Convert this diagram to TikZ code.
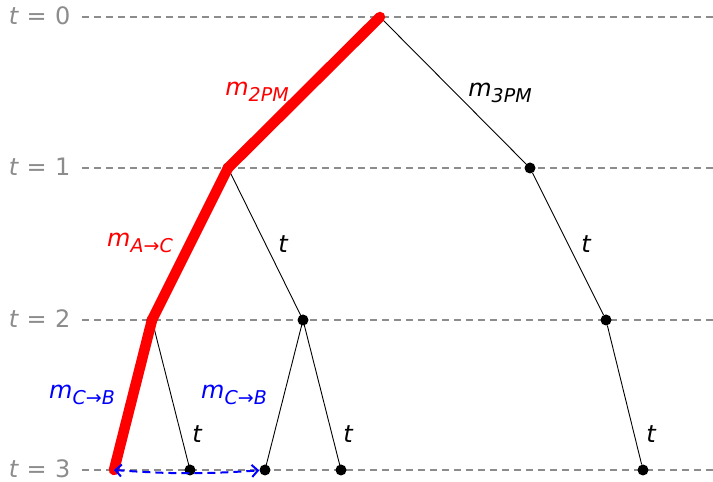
\documentclass[tikz,border=0pt]{standalone}
\usepackage{fontspec}
\setmainfont{DejaVu Sans}
\usetikzlibrary{arrows.meta}
\definecolor{lvlgray}{gray}{0.55}
\newcommand{\lbl}[2]{{\itshape #1}\raisebox{-0.25em}{\fontsize{19}{19}\selectfont\itshape #2}}
\tikzset{
  dot/.style={circle, fill=black, inner sep=0pt, minimum size=11pt},
  level/.style={lvlgray, line width=1.1pt, dash pattern=on 7pt off 5pt},
  edge/.style={black, line width=0.9pt},
  path/.style={red, line width=10.5pt, line cap=round},
  txt/.style={font=\fontsize{24}{28}\selectfont},
}
\begin{document}
\begin{tikzpicture}[x=1pt, y=1pt]
    \useasboundingbox (0,0) rectangle (713,482);

    % Zeitebenen
    \foreach \i/\y in {0/465, 1/314, 2/162, 3/12} {
        \draw[level] (82,\y) -- (713,\y);
        \node[txt, lvlgray, anchor=east] (lev\i) at (74,\y+1) {{\itshape t}\hspace{0.35em}=\hspace{0.35em}\i};
    }

    % Knoten
    \coordinate (r) at (380,465);
    \node[dot] (a) at (228,314) {};
    \node[dot] (b) at (530,314) {};
    \node[dot] (aa) at (152,162) {};
    \node[dot] (ab) at (303,162) {};
    \node[dot] (ba) at (606,162) {};
    \coordinate (aaa) at (114,12);
    \node[dot] (aab) at (190,12) {};
    \node[dot] (aba) at (265,12) {};
    \node[dot] (abb) at (341,12) {};
    \node[dot] (baa) at (643,12) {};

    % Kanten
    \draw[edge] (r) -- (b) -- (ba) -- (baa);
    \draw[edge] (a.center) -- (ab.center) -- (aba.center);
    \draw[edge] (ab.center) -- (abb.center);
    \draw[edge] (aa.center) -- (aab.center);

    % roter Pfad
    \draw[path] (r) -- (a.center) -- (aa.center) -- (aaa);

    % Beschriftungen
    \node[txt, red] (l2pm) at (257,390) {\lbl{m}{2PM}};
    \node[txt] (l3pm) at (500,389) {\lbl{m}{3PM}};
    \node[txt, red] (lac) at (140,239) {\lbl{m}{A→C}};
    \node[txt] (t1) at (283,238) {\itshape t};
    \node[txt] (t2) at (586,238) {\itshape t};
    \node[txt] (t3) at (197,48) {\itshape t};
    \node[txt] (t4) at (348,48) {\itshape t};
    \node[txt] (t5) at (651,48) {\itshape t};
    \node[txt, blue] (lcb1) at (82,87) {\lbl{m}{C→B}};
    \node[txt, blue] (lcb2) at (234,87) {\lbl{m}{C→B}};

    % Tausch
    \draw[blue, line width=2pt, dash pattern=on 8pt off 5pt, {Straight Barb[length=6pt,width=12pt]}-{Straight Barb[length=6pt,width=12pt]}]
        (aaa) to[bend right=4] (aba);
\end{tikzpicture}
\end{document}
